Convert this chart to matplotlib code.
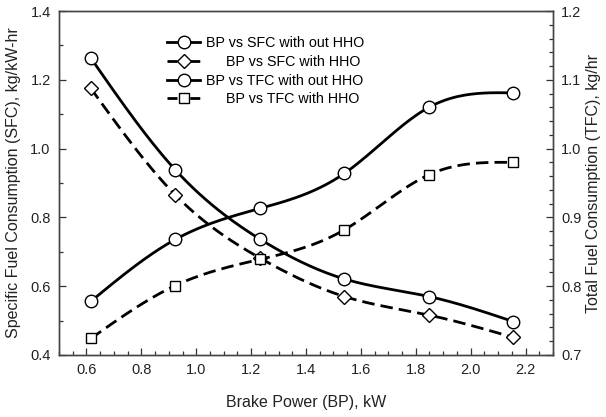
import numpy as np
import matplotlib.pyplot as plt
from matplotlib.ticker import MultipleLocator

plt.rcParams['font.family'] = ['Liberation Sans', 'DejaVu Sans']

# ============================================================
# DATA
# ============================================================
bp = [0.616, 0.924, 1.232, 1.540, 1.848, 2.156]

sfc_without = [1.263, 0.938, 0.737, 0.621, 0.570, 0.497]
sfc_with = [1.175, 0.865, 0.682, 0.570, 0.516, 0.451]

tfc_without = [0.778, 0.868, 0.913, 0.964, 1.060, 1.081]
tfc_with = [0.724, 0.801, 0.839, 0.882, 0.962, 0.980]

labels = [
    "BP vs SFC with out HHO",
    "BP vs SFC with HHO",
    "BP vs TFC with out HHO",
    "BP vs TFC with HHO",
]


# natural cubic spline, only used to draw the smooth connecting line
def smooth(x, y, n=200):
    x = np.asarray(x, float)
    y = np.asarray(y, float)
    k = len(x)
    h = np.diff(x)
    A = np.zeros((k, k))
    r = np.zeros(k)
    A[0, 0] = 1
    A[-1, -1] = 1
    for i in range(1, k - 1):
        A[i, i - 1] = h[i - 1]
        A[i, i] = 2 * (h[i - 1] + h[i])
        A[i, i + 1] = h[i]
        r[i] = 6 * ((y[i + 1] - y[i]) / h[i] - (y[i] - y[i - 1]) / h[i - 1])
    M = np.linalg.solve(A, r)
    xs = np.linspace(x[0], x[-1], n)
    idx = np.clip(np.searchsorted(x, xs) - 1, 0, k - 2)
    x0, x1 = x[idx], x[idx + 1]
    hh = x1 - x0
    a = (x1 - xs) / hh
    b = (xs - x0) / hh
    ys = (a * y[idx] + b * y[idx + 1]
          + ((a ** 3 - a) * M[idx] + (b ** 3 - b) * M[idx + 1]) * hh ** 2 / 6)
    return xs, ys


# ============================================================
# PLOT
# ============================================================
fig = plt.figure(figsize=(6.06, 4.17), dpi=100)
ax = fig.add_axes([0.0974, 0.1487, 0.8151, 0.8249])
ax2 = ax.twinx()

lw = 2.0
mk = dict(markerfacecolor="white", markeredgecolor="black", markeredgewidth=1.0)
dash = (0, (4.5, 2.2))
leg_dash = (0, (3.6, 4.6))

series = [
    (ax, sfc_without, "o", 9, "-"),
    (ax, sfc_with, "D", 7, dash),
    (ax2, tfc_without, "o", 9, "-"),
    (ax2, tfc_with, "s", 7.5, dash),
]

handles = []
for (a, y, m, ms, ls), lab in zip(series, labels):
    xs, ys = smooth(bp, y)
    a.plot(xs, ys, color="black", lw=lw, linestyle=ls, zorder=2)
    a.plot(bp, y, linestyle="none", marker=m, markersize=ms, zorder=3, **mk)
    h, = a.plot([], [], color="black", lw=lw,
                linestyle="-" if ls == "-" else leg_dash,
                marker=m, markersize=ms, **mk)
    handles.append(h)

ax.set_xlim(0.5, 2.3)
ax.set_ylim(0.4, 1.4)
ax2.set_ylim(0.7, 1.2)

ax.xaxis.set_major_locator(MultipleLocator(0.2))
ax.xaxis.set_minor_locator(MultipleLocator(0.05))
ax.yaxis.set_major_locator(MultipleLocator(0.2))
ax.yaxis.set_minor_locator(MultipleLocator(0.1))
ax2.yaxis.set_major_locator(MultipleLocator(0.1))
ax2.yaxis.set_minor_locator(MultipleLocator(0.02))

ax.xaxis.set_major_formatter(lambda v, p: f"{v:.1f}")
ax.yaxis.set_major_formatter(lambda v, p: f"{v:.1f}")
ax2.yaxis.set_major_formatter(lambda v, p: f"{v:.1f}")

for a in (ax, ax2):
    a.tick_params(which="both", direction="in", labelsize=10.5,
                  colors="#333333", labelcolor="#222222", width=0.9)
    a.tick_params(which="major", length=5, pad=6)
    a.tick_params(which="minor", length=3)
    for s in a.spines.values():
        s.set_color("#444444")
        s.set_linewidth(1.0)
ax.tick_params(top=False, right=False, which="both")

ax.set_xlabel("Brake Power (BP), kW", fontsize=11.5, color="#222222")
ax.set_ylabel("Specific Fuel Consumption (SFC), kg/kW-hr", fontsize=11.5,
              color="#222222")
ax2.set_ylabel("Total Fuel Consumption (TFC), kg/hr", fontsize=11.5,
               color="#222222")
ax.xaxis.set_label_coords(0.5, -0.115)
ax.yaxis.set_label_coords(-0.077, 0.5)
ax2.yaxis.set_label_coords(1.066, 0.5)

leg = ax2.legend(handles, labels, loc="upper left",
                 bbox_to_anchor=(0.219, 0.926), frameon=False, fontsize=10.3,
                 handlelength=2.3, handletextpad=0.4, labelspacing=0.32,
                 borderpad=0, borderaxespad=0)

# the two "with HHO" labels are pushed right like in the original
fig.canvas.draw()
r = fig.canvas.get_renderer()
texts = leg.get_texts()
widths = [t.get_window_extent(r).width for t in texts]
wmax = max(widths)
for t, w in zip(texts, widths):
    if wmax - w > 6:
        t.set_position((0.83 * (wmax - w), 0))

fig.savefig("out.png", dpi=100)
